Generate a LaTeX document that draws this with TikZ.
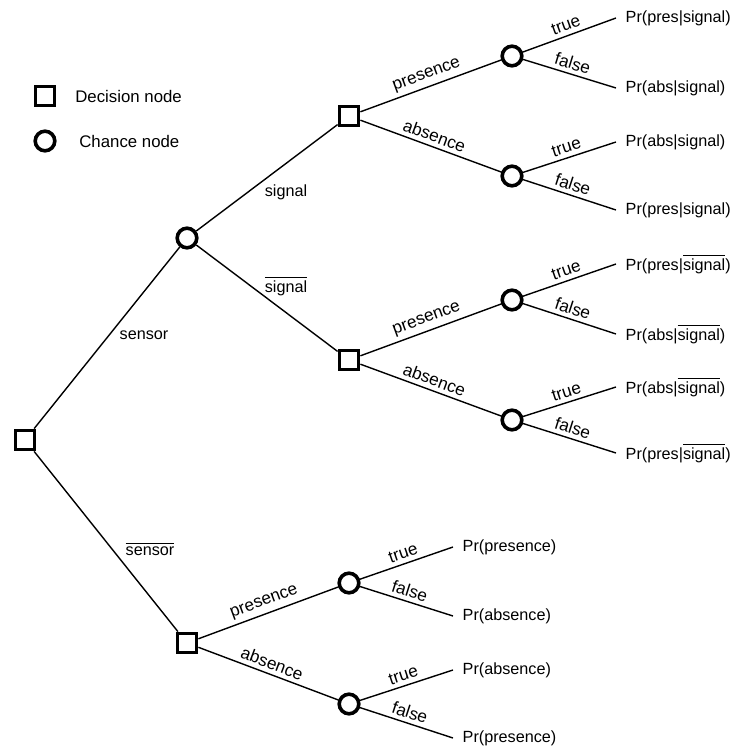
\documentclass[tikz,border=0pt]{standalone}
\usepackage{fontspec}
\setmainfont{Liberation Sans}
\newcommand{\negbar}[1]{\ensuremath{\overline{\mbox{#1}}}}
\begin{document}
\begin{tikzpicture}[x=0.5pt, y=-0.5pt, line width=0.7pt, font=\fontsize{8.1}{9.7}\selectfont,
decision node/.style={rectangle,draw,line width=1.8pt,minimum size=9.6pt,inner sep=0pt},
chance node/.style={circle,draw,line width=1.8pt,minimum size=9.8pt,inner sep=0pt},
leaf node/.style={anchor=west,inner sep=4.5pt},
branch/.style={above,sloped,inner sep=2pt,font=\fontsize{8.6}{10}\selectfont}]%
\useasboundingbox (0,0) rectangle (734,749);
\begin{scope}
% legend
\node[decision node] (k1) at (45,96) {};
\node[chance node] (k2) at (45,141) {};
\node[anchor=west,font=\fontsize{8.4}{10}\selectfont] (kt1) at (68,96) {Decision node};
\node[anchor=west,font=\fontsize{8.4}{10}\selectfont] (kt2) at (72,141) {Chance node};
% tree
\node[decision node] (d0) at (25,440) {};
\node[chance node] (c0) at (187,238) {};
\node[decision node] (d1) at (349,116) {};
\node[decision node] (d2) at (349,360) {};
\node[chance node] (c1) at (512,56) {};
\node[chance node] (c2) at (512,176) {};
\node[chance node] (c3) at (512,300) {};
\node[chance node] (c4) at (512,420) {};
\node[decision node] (d3) at (187,643) {};
\node[chance node] (c5) at (349,583) {};
\node[chance node] (c6) at (349,704) {};
% outcomes
\node[leaf node] (t1) at (616,18) {Pr(pres|signal)};
\node[leaf node] (t2) at (616,88) {Pr(abs|signal)};
\node[leaf node] (t3) at (616,142) {Pr(abs|signal)};
\node[leaf node] (t4) at (616,210) {Pr(pres|signal)};
\node[leaf node] (t5) at (616,264) {Pr(pres|\negbar{signal})};
\node[leaf node] (t6) at (616,334) {Pr(abs|\negbar{signal})};
\node[leaf node] (t7) at (616,387) {Pr(abs|\negbar{signal})};
\node[leaf node] (t8) at (616,453) {Pr(pres|\negbar{signal})};
\node[leaf node] (b1) at (453,547) {Pr(presence)};
\node[leaf node] (b2) at (453,616) {Pr(absence)};
\node[leaf node] (b3) at (453,670) {Pr(absence)};
\node[leaf node] (b4) at (453,738) {Pr(presence)};
% plain labels
\node (l1) at (144,335) {sensor};
\node (l2) at (150,549) {\negbar{sensor}};
\node (l3) at (286,192) {signal};
\node (l4) at (286,286) {\negbar{signal}};
\end{scope}
\begin{scope}
\draw (d0) edge node{} (c0);
\draw (d0) edge node{} (d3);
\draw (c0) edge node{} (d1);
\draw (c0) edge node{} (d2);
\draw (d1) edge node[branch]{presence} (c1);
\draw (d1) edge node[branch]{absence} (c2);
\draw (d2) edge node[branch]{presence} (c3);
\draw (d2) edge node[branch]{absence} (c4);
\draw (d3) edge node[branch]{presence} (c5);
\draw (d3) edge node[branch]{absence} (c6);
\draw (c1) edge node[branch]{true} (t1.west);
\draw (c1) edge node[branch]{false} (t2.west);
\draw (c2) edge node[branch]{true} (t3.west);
\draw (c2) edge node[branch]{false} (t4.west);
\draw (c3) edge node[branch]{true} (t5.west);
\draw (c3) edge node[branch]{false} (t6.west);
\draw (c4) edge node[branch]{true} (t7.west);
\draw (c4) edge node[branch]{false} (t8.west);
\draw (c5) edge node[branch]{true} (b1.west);
\draw (c5) edge node[branch]{false} (b2.west);
\draw (c6) edge node[branch]{true} (b3.west);
\draw (c6) edge node[branch]{false} (b4.west);
\end{scope}
\end{tikzpicture}
\end{document}
